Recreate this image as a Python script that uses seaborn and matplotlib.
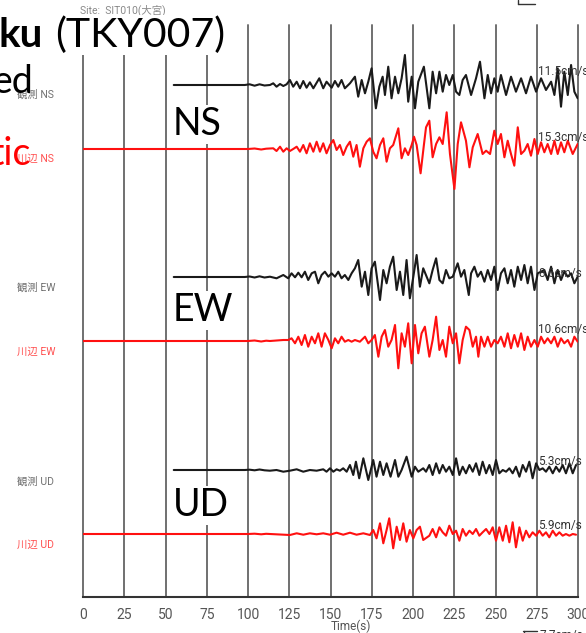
import matplotlib
matplotlib.use("Agg")
import matplotlib.pyplot as plt
import pandas as pd
import seaborn as sns
from matplotlib.lines import Line2D

# ---------------- data ----------------
# time (s) and amplitude (relative, drawing units) for each record
NS_OBS_T = [55, 98, 101, 104, 107, 110,
            113.3, 115.3, 117.3, 119.4, 121.4, 123.4, 125.4, 127.4, 129.5, 131.5, 133.5, 135.5, 137.5, 139.6,
            143.2, 145.6, 147.6, 150.7, 152.7, 154.7, 156.7, 158.7, 161.8, 164.8, 166.8, 168.9, 170.9, 172.9,
            174.9, 177.5, 179.6, 181.6, 183.0, 185.0, 187.0, 189.1, 191.1, 193.1, 195.1, 197.1, 199.2, 201.2,
            203.2, 206.6,
            209.9, 211.9, 214.0, 216.0, 218.0, 220.0, 222.0, 224.1, 226.1, 228.1, 230.1, 232.1, 235.2, 238.2,
            240.6, 243.3, 245.3, 247.3, 249.3, 251.3, 253.3, 256.4, 259.4, 262.4, 265.5, 268.5, 271.5, 274.6,
            277.6, 280.6, 283.7, 285.7, 287.7, 289.7, 291.7, 293.8, 295.8, 297.8, 299.8]
NS_OBS_A = [0, 0, 0.7, -0.7, 0.7, -0.5,
            0, 1.7, -1.7, 1, -1, 0.7, 5, -1.7, 3.3, -3.3, 4, -2.7, 2.7, -3.3,
            6.7, -3.3, 3.3, -2.7, 4, -1.7, 5, -3.3, 1.7, 8.3, -11.7, 5, -8.3, 3.3,
            16.7, -23.3, -1.7, 8.3, -10, 18.3, -13.3, 8.3, -8.3, 6.7, 30, -16.7, 8.3, -23.3,
            3.3, 18.3,
            -23.3, 13.3, -8.3, 13.3, -6.7, 10, 0, 10, -6.7, -10, 5, 10, -10, 6.7,
            23.3, -13.3, 10, -8.3, 6.7, -6.7, 10, -10, 8.3, -6.7, 6.7, -8.3, 8.3, -6.7,
            6.7, -5, 3.3, -10, 16.7, -21.7, 13.3, -10, 20, -6.7, -13.3]

NS_SIM_T = [0, 100, 104, 108, 111,
            115.3, 117.3, 119.4, 121.4, 123.4, 125.4, 127.4, 129.5, 131.5, 133.5, 135.5, 137.5, 139.6, 141.6,
            143.6, 145.6, 147.6, 149.7, 151.7, 153.7, 155.7, 157.7, 159.8, 161.8, 163.8, 165.8, 167.8, 169.9,
            171.9, 173.9, 175.9, 177.9, 180.0, 182.0, 184.0, 186.0, 188.0, 191.1, 193.1, 195.1, 197.1, 199.2,
            200.6, 202.2, 204.6, 206.6,
            207.9, 209.9, 211.9, 214.0, 216.0, 218.0, 220.4, 222.4, 225.1, 227.1, 229.1, 232.1, 234.2, 236.2,
            239.2, 242.2, 244.3, 246.7, 249.3, 251.3, 253.3, 255.4, 257.4, 259.4, 261.4, 263.5, 265.5, 267.5,
            269.5, 271.5, 273.6, 275.6, 277.6, 279.6, 281.6, 283.7, 285.7, 287.7, 289.7, 291.7, 293.8, 296.8, 299.8]
NS_SIM_A = [0, 0, 0.5, -0.5, 0.3,
            0.7, -2, 2.3, -2.7, 0.7, -2, 0, 2.3, -2.7, 4, -4.3, 5.7, -2.7, 7.3,
            -2.7, 5.7, -4.3, 4, 9, -1, 4, -6, 2.3, 7.3, -7.7, 4, -17.7, 0.7,
            7.3, 10.7, -2.7, -9.3, 4, 10.7, -12.7, 0.7, 4, 20.7, -9.3, 0.7, -6, 4,
            12.3, 4, -24.3, 4,
            21.7, 28.3, -8.3, 5, 11.7, 5, 36.7, -5, -40, 5, 26.7, 8.3, -18.3, 1.7,
            15, -5, -1.7, -5, 18.3, 5, 15, -8.3, 8.3, -5, -16.7, 21.7, -5, -1.7,
            5, -6.7, 10, -5, 6.7, -3.3, 5, -5, 8.3, -5, 6.7, -3.3, 8.3, -5, 5]

EW_OBS_T = [55, 98, 101, 104, 107, 110,
            113.3, 117.3, 121.4, 124.4, 126.4, 128.5, 130.5, 132.5, 134.5, 136.5, 138.6, 140.6, 142.6, 144.6,
            146.6, 148.7, 150.7, 152.7, 154.7, 156.7, 158.7, 160.8, 162.8, 164.8, 166.8, 168.9, 170.9, 172.9,
            174.9, 176.9, 180.0, 182.0, 184.0, 186.0, 188.0, 190.1, 192.1, 194.1, 196.1, 198.1, 200.2, 202.2,
            204.2, 206.2,
            209.9, 211.9, 214.0, 216.0, 218.0, 220.0, 222.0, 224.1, 227.1, 229.1, 231.1, 233.8, 235.2, 237.2,
            239.2, 241.2, 243.3, 245.3, 247.3, 249.3, 251.3, 253.3, 255.4, 257.4, 259.4, 261.4, 263.5, 265.5,
            267.5, 269.5, 271.5, 273.6, 275.6, 279.6, 281.6, 283.7, 285.7, 287.7, 289.7, 291.7, 293.8, 295.8,
            297.8, 299.8]
EW_OBS_A = [0, 0, 0.5, -0.5, 0.7, -0.5,
            0.3, -1.3, 2, -1.3, 3.7, -0.3, 4.3, -0.3, 5.3, -3, 3.7, 5.3, -6.3, 2,
            5.3, 0.3, 3.7, 0.3, 5.3, -1.3, 2, -3, 3.7, 8.7, 17, -9.7, 5.3, -18,
            8.7, 15.3, -23, 7, -6.3, 10.3, 20.3, -13, 5.3, -18, 17, -21.3, 0.3, 22,
            -9.7, 8.7,
            -6.3, 7, 18.7, -3, -6.3, 7, -1.3, 0.3, 13.7, 0.3, 7, -18, 3.7, 10.3,
            0.3, 5.3, -4.7, 7, -3, 10.3, -13, 3.7, 8.7, -6.3, 7, -9.7, 10.3, -3,
            12, -6.3, 10.3, -13, 3.7, 7, -3, 10.3, -6.3, 7, -3, 5.3, 0.3, 3.7,
            -6.3, 0.3]

EW_SIM_T = [0, 100, 104, 108, 111,
            113.3, 121.4, 124.4, 126.4, 128.5, 130.5, 132.5, 134.5, 136.5, 138.6, 140.6, 142.6, 144.6, 146.6,
            148.7, 150.7, 152.7, 154.7, 156.7, 158.7, 160.8, 162.8, 164.8, 167.8, 170.9, 172.9, 174.9, 176.9,
            179.0, 181.0, 183.0, 185.0, 187.0, 189.1, 191.1, 193.1, 195.1, 197.1, 199.2, 201.2, 203.2, 205.2,
            207.2,
            209.9, 211.9, 214.0, 216.0, 218.0, 220.0, 222.0, 224.1, 226.1, 228.1, 230.1, 232.1, 234.2, 236.2,
            238.2, 239.6, 241.2, 243.3, 245.3, 247.3, 249.3, 251.3, 253.3, 255.4, 257.4, 259.4, 261.4, 263.5,
            265.5, 267.5, 269.5, 271.5, 273.6, 275.6, 277.6, 279.6, 281.6, 283.7, 285.7, 287.7, 289.7, 291.7,
            293.8, 295.8, 297.8, 299.8]
EW_SIM_A = [0, 0, 0.5, -0.5, 0.3,
            0, 1, 1, 2.7, -2.3, 4.3, -4, 6, -5.7, 4.3, -2.3, 7.7, -5.7, 7.7,
            1, -7.3, 2.7, -2.3, 4.3, -0.7, 1, -0.7, 1, -0.7, 4.3, -2.3, 1, 6,
            -15.7, 4.3, 11, -5.7, 1, 16, -27.3, 7.7, -5.7, 17.7, -22.3, 16, -12.3, 7.7,
            14.3,
            -15.7, 1, 24.3, -9, 1, -15.7, 14.3, -2.3, 7.7, -22.3, 1, 14.3, 11, -5.7,
            4.3, -15.7, 4.3, -5.7, 4.3, -5.7, 1, -2.3, 4.3, -5.7, 7.7, -7.3, 6, -5.7,
            7.7, -9, 4.3, -5.7, 1, -5.7, 4.3, -2.3, 2.7, -2.3, 4.3, -5.7, 2.7, -2.3,
            1, -5.7, 4.3, -0.7]

UD_OBS_T = [55, 98, 101, 104, 107, 110,
            113.3, 117.3, 121.4, 125.4, 129.5, 133.5, 137.5, 141.6, 145.6, 147.6, 149.7, 151.7, 153.7, 155.7,
            157.7, 159.8, 161.8, 163.8, 165.4, 167.4, 169.9, 172.9, 175.9, 177.9, 180.0, 182.0, 184.0, 186.4,
            189.1, 191.1, 193.1, 196.1, 199.2, 201.2, 203.2, 206.2,
            207.9, 209.9, 211.9, 214.0, 216.0, 218.0, 220.0, 222.0, 224.1, 226.1, 228.1, 230.1, 232.1, 234.2,
            236.2, 238.2, 240.2, 242.2, 244.3, 246.3, 248.3, 250.3, 252.3, 254.4, 256.4, 258.4, 260.4, 262.4,
            264.5, 266.5, 268.5, 270.5, 272.5, 274.6, 276.6, 278.6, 280.6, 282.6, 284.7, 286.7, 288.7, 290.7,
            292.7, 294.8, 296.8, 298.8]
UD_OBS_A = [0, 0, 0.3, -0.3, 0.5, -0.3,
            -0.7, 0, -1.7, -0.7, 0.7, -1.7, 0, -0.7, 0.7, -1.7, 1.7, -1.7, 0.7, -0.7,
            1.7, -1.7, 5, -5, 8.3, -8.3, 11.7, -10, 10, -6.7, 8.3, -5, 6.7, -6.7,
            10, -6.7, 0, 13.3, -6.7, 3.3, -1.7, 1.7,
            -1.7, 5, -5, 6.7, -3.3, 5, -1.7, 3.3, -5, 11.7, -5, 3.3, -3.3, 5,
            -1.7, 6.7, -5, 8.3, -3.3, 5, -5, 10, -3.3, 0, -1.7, 1.7, -3.3, 3.3,
            -6.7, 5, -1.7, 8.3, -8.3, 6.7, 0, 1.7, -1.7, 3.3, -3.3, 3.3, -1.7, 5,
            -3.3, 6.7, -3.3, 5]

UD_SIM_T = [0, 100, 104, 108, 111,
            113.3, 125.4, 129.5, 133.5, 137.5, 141.6, 145.6, 149.7, 153.7, 157.7, 161.8, 165.8, 169.9, 173.9,
            175.9, 177.9, 180.0, 182.0, 184.0, 185.6, 188.0, 190.1, 192.1, 194.1, 196.1, 198.1, 200.2, 202.2,
            204.2, 206.2,
            209.9, 211.9, 214.0, 216.0, 218.0, 220.0, 222.0, 224.1, 226.1, 228.1, 230.1, 232.1, 234.2, 236.2,
            238.2, 240.2, 242.2, 244.3, 246.3, 248.3, 250.3, 252.3, 254.4, 256.4, 258.4, 260.4, 262.4, 264.5,
            266.5, 268.5, 270.5, 272.5, 274.6, 276.6, 278.6, 280.6, 282.6, 284.7, 286.7, 288.7, 290.7, 292.7,
            294.8, 296.8, 298.8]
UD_SIM_A = [0, 0, 0.3, -0.3, 0.2,
            0, -1, 0.7, -0.7, 0.7, -0.3, 0.7, -0.7, 1.3, -0.7, 1.3, -0.7, 0.7, -1,
            4, -4.3, 10.7, -9.3, 4, 15.7, -14.3, 7.3, -6, 10.7, -7.7, 4, -4.3, 4,
            7.3, -6,
            -1.7, 5, -3.3, 6.7, 1.7, -1.7, 8.3, 0, 3.3, -6.7, 5, -1.7, 3.3, 0,
            5, -1.7, 1.7, 5, 0, 6.7, -6.7, 6.7, -6.7, 8.3, -8.3, 11.7, -13.3, 6.7,
            -6.7, 3.3, -3.3, 1.7, -1.7, 3.3, -1.7, 1.7, -3.3, 3.3, -1.7, 1.7, -1.7, 0,
            -1.7, 0, -0.7]

TIME_TICKS = [0, 25, 50, 75, 100, 125, 150, 175, 200, 225, 250, 275, 300]
TIME_LABELS = ["0", "25", "50", "75", "100", "125", "150", "175", "200", "225", "250", "275", "300"]
PEAK_LABELS = {"NS_OBS": "11.5cm/s", "NS_SIM": "15.3cm/s",
               "EW_OBS": "8.6cm/s", "EW_SIM": "10.6cm/s",
               "UD_OBS": "5.3cm/s", "UD_SIM": "5.9cm/s"}

# ---------------- layout / style ----------------
W, H = 586, 633
BASE_PX = {"NS_OBS": 85, "NS_SIM": 149, "EW_OBS": 277, "EW_SIM": 341,
           "UD_OBS": 470, "UD_SIM": 534}
AX_TOP, AX_BOT = 25, 597
BLACK, RED = "#1a1a1a", "#ff1010"

sns.set_style("white")
plt.rcParams["font.family"] = ["Roboto", "Noto Sans CJK JP", "DejaVu Sans"]

fig = plt.figure(figsize=(W / 100, H / 100), dpi=100)
ax = fig.add_axes([83 / W, (H - AX_BOT) / H, 495 / W, (AX_BOT - AX_TOP) / H])

records = [("NS_OBS", NS_OBS_T, NS_OBS_A, BLACK), ("NS_SIM", NS_SIM_T, NS_SIM_A, RED),
           ("EW_OBS", EW_OBS_T, EW_OBS_A, BLACK), ("EW_SIM", EW_SIM_T, EW_SIM_A, RED),
           ("UD_OBS", UD_OBS_T, UD_OBS_A, BLACK), ("UD_SIM", UD_SIM_T, UD_SIM_A, RED)]

for name, t, a, col in records:
    df = pd.DataFrame({"t": t, "amp": a})
    df["y"] = (AX_BOT - BASE_PX[name]) + df["amp"]
    sns.lineplot(data=df, x="t", y="y", color=col, lw=1.5, ax=ax,
                 estimator=None, sort=False, zorder=3)

ax.set_xlim(0, 300)
ax.set_ylim(0, AX_BOT - AX_TOP)
ax.set_xticks(TIME_TICKS)
ax.set_xticklabels(TIME_LABELS)
ax.set_yticks([])
ax.grid(axis="x", color="#707070", lw=1.4)
ax.grid(axis="y", visible=False)
for gl in ax.get_xgridlines():
    gl.set_clip_on(False)
ax.set_axisbelow(True)
ax.tick_params(axis="x", length=0, pad=8, labelsize=10, labelcolor="#555555")
for s in ["left", "top", "right"]:
    ax.spines[s].set_visible(False)
ax.spines["bottom"].set_color("#333333")
ax.spines["bottom"].set_linewidth(1.5)
ax.set_ylabel("")
ax.set_xlabel("Time(s)", fontsize=8.5, color="#555555")
ax.xaxis.set_label_coords((351 - 83) / 495, -0.040)


def fx(x):
    return x / W


def fy(y):
    return 1 - y / H


# peak amplitude labels
lab_px = {"NS_OBS": 72, "NS_SIM": 138, "EW_OBS": 273, "EW_SIM": 329,
          "UD_OBS": 461, "UD_SIM": 526}
for name, txt in PEAK_LABELS.items():
    fig.text(fx(538), fy(lab_px[name]), txt, fontsize=8.5, color="#333333",
             va="center", ha="left", zorder=5)

# channel labels on the left
left_labels = [("観測 NS", 95, "#707070"), ("川辺 NS", 159, "#ff5050"),
               ("観測 EW", 288, "#707070"), ("川辺 EW", 352, "#ff5050"),
               ("観測 UD", 482, "#707070"), ("川辺 UD", 545, "#ff5050")]
for txt, y, c in left_labels:
    fig.text(fx(17), fy(y), txt, fontsize=7.5, color=c, va="center", ha="left")

fig.text(fx(80), fy(10), "Site:  SIT010(大宮)", fontsize=7.5, color="#8a8a8a",
         va="center", ha="left")

# scale brackets
fig.add_artist(Line2D([fx(523), fx(537)], [fy(630.5), fy(630.5)], color="#333", lw=1))
fig.add_artist(Line2D([fx(524), fx(524)], [fy(630.5), fy(640)], color="#333", lw=1))
fig.text(fx(540), fy(629), "7.7cm/s", fontsize=8.5, color="#333", va="top", ha="left")
fig.add_artist(Line2D([fx(518), fx(518)], [fy(0), fy(4)], color="#333", lw=1))
fig.add_artist(Line2D([fx(518), fx(535)], [fy(4), fy(4)], color="#333", lw=1))

# slide overlay text
FAM = ["Lato", "DejaVu Sans"]
box = dict(facecolor="white", edgecolor="none", pad=1.0)
fig.text(fx(43), fy(47), "ku", ha="right", va="baseline", fontweight="bold",
         color="black", fontsize=29, family=FAM, zorder=10)
fig.text(fx(55), fy(47), "(TKY007)", ha="left", va="baseline", color="black",
         fontsize=29.5, family=FAM, bbox=box, zorder=10)
fig.text(fx(33), fy(93), "ed", ha="right", va="baseline", color="black",
         fontsize=27, family=FAM, zorder=10)
fig.text(fx(31), fy(165), "tic", ha="right", va="baseline", color="#ff0000",
         fontsize=27, family=FAM, zorder=10)
for txt, yb in [("NS", 135), ("EW", 321), ("UD", 516)]:
    fig.text(fx(173), fy(yb), txt, ha="left", va="baseline", color="black",
             fontsize=27, family=FAM, bbox=box, zorder=10)

fig.savefig("out.png", dpi=100)
